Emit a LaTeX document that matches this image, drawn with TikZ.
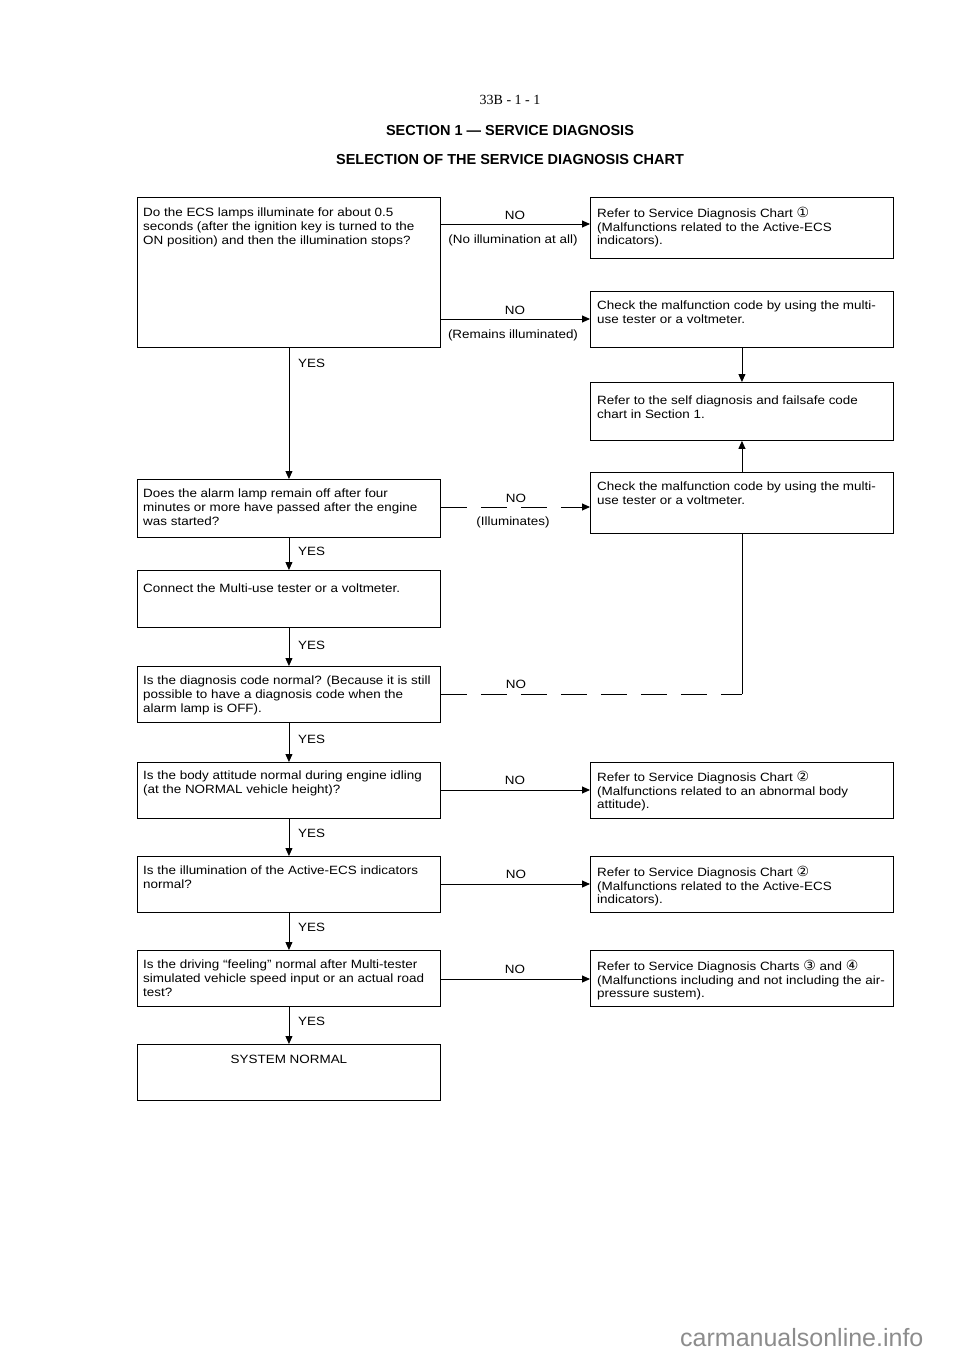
\documentclass[tikz,border=0pt]{standalone}
\usepackage{fontspec}
\setmainfont{Liberation Sans}
\newfontfamily\bodyf{Liberation Sans}[FakeStretch=1.12]
\newfontfamily\serf{Liberation Serif}
\newfontfamily\dvs{DejaVu Sans}
\usetikzlibrary{arrows.meta}
\newcommand\cnum[1]{{\dvs\fontsize{14}{11}\selectfont #1}}
\begin{document}
\begin{tikzpicture}[x=1pt,y=-1pt,
  box/.style={draw, line width=0.9pt, minimum width=303pt, inner sep=0pt, anchor=north west},
  txt/.style={anchor=north west, align=left, inner sep=0pt, font=\bodyf\fontsize{12}{13.6}\selectfont},
  lbl/.style={inner sep=0pt, font=\bodyf\fontsize{12}{13.6}\selectfont},
  arr/.style={line width=0.9pt, -{Triangle[length=8pt,width=7pt]}},
  ln/.style={line width=0.9pt},
  dsh/.style={dash pattern=on 26pt off 14pt}]
\useasboundingbox (0,0) rectangle (960,1357);
% header
\node[inner sep=0pt, font=\serf\fontsize{14}{14}\selectfont] (pg) at (510,100) {33B - 1 - 1};
\node[inner sep=0pt, font=\bfseries\fontsize{14.5}{14.5}\selectfont] (h1) at (510,131) {SECTION 1 --- SERVICE DIAGNOSIS};
\node[inner sep=0pt, font=\bfseries\fontsize{14.5}{14.5}\selectfont] (h2) at (510,160) {SELECTION OF THE SERVICE DIAGNOSIS CHART};
% left boxes
\node[box, minimum height=150pt] (b1) at (137,197) {};
\node[box, minimum height=58pt] (b2) at (137,479) {};
\node[box, minimum height=57pt] (b3) at (137,570) {};
\node[box, minimum height=56pt] (b4) at (137,666) {};
\node[box, minimum height=56pt] (b5) at (137,762) {};
\node[box, minimum height=56pt] (b6) at (137,856) {};
\node[box, minimum height=56pt] (b7) at (137,950) {};
\node[box, minimum height=56pt] (b8) at (137,1044) {};
% right boxes
\node[box, minimum height=61pt] (r1) at (590,197) {};
\node[box, minimum height=56pt] (r2) at (590,291) {};
\node[box, minimum height=58pt] (r3) at (590,382) {};
\node[box, minimum height=61pt] (r4) at (590,472) {};
\node[box, minimum height=56pt] (r5) at (590,762) {};
\node[box, minimum height=56pt] (r6) at (590,856) {};
\node[box, minimum height=56pt] (r7) at (590,950) {};
% texts
\node[txt] (t1) at ([shift={(6,11)}]b1.north west) {Do the ECS lamps illuminate for about 0.5\\seconds (after the ignition key is turned to the\\ON position) and then the illumination stops?};
\node[txt] (t2) at ([shift={(6,10)}]b2.north west) {Does the alarm lamp remain off after four\\minutes or more have passed after the engine\\was started?};
\node[txt] (t3) at ([shift={(6,14)}]b3.north west) {Connect the Multi-use tester or a voltmeter.};
\node[txt] (t4) at ([shift={(6,10)}]b4.north west) {Is the diagnosis code normal? (Because it is still\\possible to have a diagnosis code when the\\alarm lamp is OFF).};
\node[txt] (t5) at ([shift={(6,9)}]b5.north west) {Is the body attitude normal during engine idling\\(at the NORMAL vehicle height)?};
\node[txt] (t6) at ([shift={(6,10)}]b6.north west) {Is the illumination of the Active-ECS indicators\\normal?};
\node[txt] (t7) at ([shift={(6,10)}]b7.north west) {Is the driving “feeling” normal after Multi-tester\\simulated vehicle speed input or an actual road\\test?};
\node[lbl, anchor=north] (t8) at ([shift={(0,11)}]b8.north) {SYSTEM NORMAL};
\node[txt] (s1) at ([shift={(7,10)}]r1.north west) {Refer to Service Diagnosis Chart \cnum{①}\\(Malfunctions related to the Active-ECS\\indicators).};
\node[txt] (s2) at ([shift={(7,10)}]r2.north west) {Check the malfunction code by using the multi-\\use tester or a voltmeter.};
\node[txt] (s3) at ([shift={(7,14)}]r3.north west) {Refer to the self diagnosis and failsafe code\\chart in Section 1.};
\node[txt] (s4) at ([shift={(7,10)}]r4.north west) {Check the malfunction code by using the multi-\\use tester or a voltmeter.};
\node[txt] (s5) at ([shift={(7,9)}]r5.north west) {Refer to Service Diagnosis Chart \cnum{②}\\(Malfunctions related to an abnormal body\\attitude).};
\node[txt] (s6) at ([shift={(7,10)}]r6.north west) {Refer to Service Diagnosis Chart \cnum{②}\\(Malfunctions related to the Active-ECS\\indicators).};
\node[txt] (s7) at ([shift={(7,10)}]r7.north west) {Refer to Service Diagnosis Charts \cnum{③} and \cnum{④}\\(Malfunctions including and not including the air-\\pressure sustem).};
% NO connectors
\coordinate (y1) at (0,224);
\coordinate (y2) at (0,319);
\coordinate (y3) at (0,507);
\coordinate (y4) at (0,694);
\coordinate (y5) at (0,790);
\coordinate (y6) at (0,884);
\coordinate (y7) at (0,979);
\draw[arr] (b1.east |- y1) -- (r1.west |- y1);
\draw[arr] (b1.east |- y2) -- (r2.west |- y2);
\draw[arr, dsh] (b2.east |- y3) -- (r4.west |- y3);
\coordinate (k4) at (r4.south |- y4);
\draw[ln, dsh] (b4.east |- y4) -- (k4);
\draw[ln] (k4) -- (r4.south);
\draw[arr] (b5.east |- y5) -- (r5.west |- y5);
\draw[arr] (b6.east |- y6) -- (r6.west |- y6);
\draw[arr] (b7.east |- y7) -- (r7.west |- y7);
\draw[arr] (r2.south) -- (r3.north);
\draw[arr] (r4.north) -- (r3.south);
% NO labels
\node[lbl] (n1) at (515,215) {NO};
\node[lbl] (m1) at (513,240) {(No illumination at all)};
\node[lbl] (n2) at (515,310) {NO};
\node[lbl] (m2) at (513,335) {(Remains illuminated)};
\node[lbl] (n3) at (516,498) {NO};
\node[lbl] (m3) at (513,522) {(Illuminates)};
\node[lbl] (n4) at (516,684) {NO};
\node[lbl] (n5) at (515,780) {NO};
\node[lbl] (n6) at (516,874) {NO};
\node[lbl] (n7) at (515,969) {NO};
% YES connectors
\draw[arr] (b1.south) -- (b2.north);
\draw[arr] (b2.south) -- (b3.north);
\draw[arr] (b3.south) -- (b4.north);
\draw[arr] (b4.south) -- (b5.north);
\draw[arr] (b5.south) -- (b6.north);
\draw[arr] (b6.south) -- (b7.north);
\draw[arr] (b7.south) -- (b8.north);
\node[lbl, anchor=west] (e1) at (298,363) {YES};
\node[lbl, anchor=west] (e2) at (298,551) {YES};
\node[lbl, anchor=west] (e3) at (298,645) {YES};
\node[lbl, anchor=west] (e4) at (298,739) {YES};
\node[lbl, anchor=west] (e5) at (298,833) {YES};
\node[lbl, anchor=west] (e6) at (298,927) {YES};
\node[lbl, anchor=west] (e7) at (298,1021) {YES};
% watermark
\node[inner sep=0pt, anchor=west, text=black!45, font=\fontsize{25}{25}\selectfont] (wm) at (680,1338) {carmanualsonline.info};
\end{tikzpicture}
\end{document}
